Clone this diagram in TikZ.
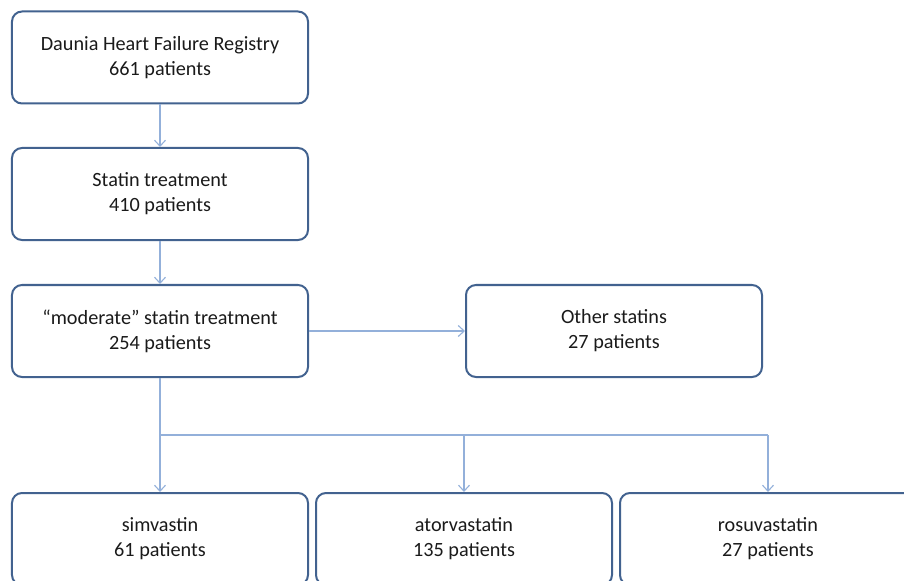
\documentclass[tikz,border=0pt]{standalone}
\usepackage{fontspec}
\setmainfont{Carlito}
\usetikzlibrary{arrows.meta}
\definecolor{boxline}{HTML}{42628F}
\definecolor{conn}{HTML}{93B0DA}
\definecolor{txt}{HTML}{1A1A1A}
\begin{document}
\begin{tikzpicture}[x=1bp,y=-1bp,
  stagebox/.style={draw=boxline, line width=2bp, rounded corners=10bp, fill=white,
    minimum width=296bp, minimum height=92bp, inner sep=0pt, align=center,
    text=txt, font=\fontsize{20.3}{25}\selectfont},
  link/.style={draw=conn, line width=1.1bp, -{Straight Barb[length=6bp,width=11bp]}},
  plain/.style={draw=conn, line width=1.1bp}]
\useasboundingbox (0,0) rectangle (904,581);
\clip (0,0) rectangle (904,581);
\node[stagebox] (reg) at (160,57.5) {Daunia Heart Failure Registry\\661 patients};
\node[stagebox] (stat) at (160,194) {Statin treatment\\410 patients};
\node[stagebox] (mod) at (160,331) {“moderate” statin treatment\\254 patients};
\node[stagebox] (oth) at (614,331) {Other statins\\27 patients};
\node[stagebox] (sim) at (160,539) {simvastin\\61 patients};
\node[stagebox] (ato) at (464,539) {atorvastatin\\135 patients};
\node[stagebox] (ros) at (768,539) {rosuvastatin\\27 patients};
\coordinate (split) at (160,435);
\draw[link] (reg) -- (stat);
\draw[link] (stat) -- (mod);
\draw[link] (mod) -- (oth);
\draw[link] (mod) -- (sim);
\draw[plain] (split) -- (ros.north |- split);
\draw[link] (ato.north |- split) -- (ato);
\draw[link] (ros.north |- split) -- (ros);
\end{tikzpicture}
\end{document}
